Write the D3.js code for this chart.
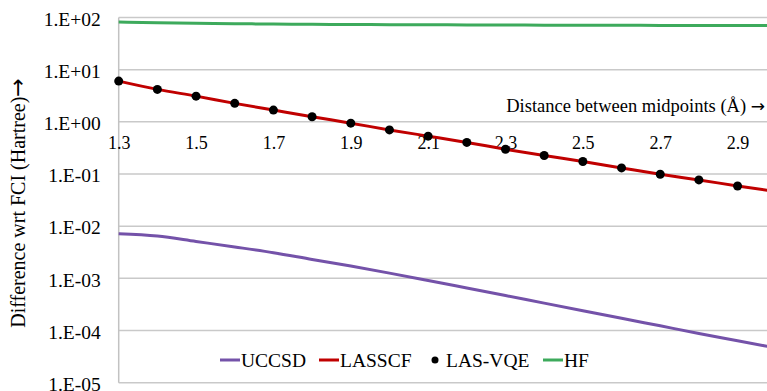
<!DOCTYPE html>
<html>
<head>
<meta charset="utf-8">
<script src="https://cdn.jsdelivr.net/npm/d3@7"></script>
<style>
  html, body { margin: 0; padding: 0; background: #fff; }
  svg { display: block; }
  svg text { font-family: "Liberation Serif", "Times New Roman", serif; fill: #000; }
  svg text .arrow { font-family: "DejaVu Sans", sans-serif; }
</style>
</head>
<body>
<svg id="chart" width="767" height="391"></svg>
<script>
// Bond distance between midpoints (Å)
const distances = [1.3, 1.4, 1.5, 1.6, 1.7, 1.8, 1.9, 2.0, 2.1, 2.2, 2.3, 2.4, 2.5, 2.6, 2.7, 2.8, 2.9, 3.0];
// Energy differences with respect to FCI (Hartree)
const uccsd  = [0.0072, 0.0065, 0.0051, 0.0040, 0.0031, 0.0023, 0.00172, 0.00126, 0.00091, 0.000653, 0.000468, 0.000335, 0.00024, 0.000172, 0.000123, 0.000088, 0.0000638, 0.0000462];
const lasscf = [6.04, 4.19, 3.11, 2.26, 1.68, 1.25, 0.944, 0.70, 0.532, 0.403, 0.298, 0.226, 0.174, 0.131, 0.099, 0.077, 0.059, 0.046];
const lasvqe = [6.04, 4.19, 3.11, 2.26, 1.68, 1.25, 0.944, 0.70, 0.532, 0.403, 0.298, 0.226, 0.174, 0.131, 0.099, 0.077, 0.059, 0.046];
const hf     = [82, 79, 77.5, 76, 75, 74, 73.5, 73, 72.5, 72, 71.7, 71.4, 71, 70.8, 70.5, 70.3, 70.1, 70];
const xTicks = [1.3, 1.5, 1.7, 1.9, 2.1, 2.3, 2.5, 2.7, 2.9];
const yTicks = [1e2, 1e1, 1e0, 1e-1, 1e-2, 1e-3, 1e-4, 1e-5];
const seriesNames = ["UCCSD", "LASSCF", "LAS-VQE", "HF"];

const colors = { UCCSD: "#7452a9", LASSCF: "#c00000", "LAS-VQE": "#000000", HF: "#3daa5c" };

const svg = d3.select("#chart");
const plotLeft = 118.7, plotTop = 17.5, plotBottom = 382.7;

const x = d3.scaleLinear().domain([1.3, 3.0]).range([plotLeft, plotLeft + 17 * 38.68]);
const y = d3.scaleLog().domain([1e-5, 1e2]).range([plotBottom, plotTop]);

// Excel-style scientific labels: 1.E+02, 1.E-05
const sci = v => {
  const e = Math.round(Math.log10(v));
  return "1.E" + (e < 0 ? "-" : "+") + String(Math.abs(e)).padStart(2, "0");
};

// horizontal gridlines
svg.append("g")
  .selectAll("line")
  .data(yTicks)
  .join("line")
  .attr("x1", plotLeft).attr("x2", 767)
  .attr("y1", d => y(d)).attr("y2", d => y(d))
  .attr("stroke", "#c9c9c9").attr("stroke-width", 1.5);

// vertical axis line
svg.append("line")
  .attr("x1", plotLeft).attr("x2", plotLeft)
  .attr("y1", plotTop).attr("y2", plotBottom)
  .attr("stroke", "#c2c2c2").attr("stroke-width", 1.5);

// y tick labels
const yAxis = d3.axisLeft(y).tickValues(yTicks).tickFormat(sci).tickSize(0).tickPadding(18);
const gy = svg.append("g").attr("transform", `translate(${plotLeft},0)`).call(yAxis)
  .attr("font-family", null);
gy.select(".domain").remove();
gy.selectAll("text")
  .style("font-size", "19.5px")
  .attr("dy", "0.4em");

// x tick labels, placed under the 1.E+00 line
const xAxis = d3.axisBottom(x).tickValues(xTicks).tickFormat(d3.format(".1f")).tickSize(0).tickPadding(14);
const gx = svg.append("g").attr("transform", `translate(0,${y(1)})`).call(xAxis)
  .attr("font-family", null);
gx.select(".domain").remove();
gx.selectAll("text")
  .style("font-size", "18px");

// axis titles
const xt = svg.append("text")
  .attr("x", 765).attr("y", 112)
  .attr("text-anchor", "end")
  .style("font-size", "18.5px")
  .text("Distance between midpoints (Å) ");
xt.append("tspan").attr("class", "arrow").style("font-size", "17px").text("→");

const yt = svg.append("text")
  .attr("transform", "translate(25,203) rotate(-90)")
  .attr("text-anchor", "middle")
  .style("font-size", "20px")
  .text("Difference wrt FCI (Hartree)");
yt.append("tspan").attr("class", "arrow").style("font-size", "22px").text("→");

// series lines
const line = d3.line().x((d, i) => x(distances[i])).y(d => y(d)).curve(d3.curveMonotoneX);
const lines = [["UCCSD", uccsd], ["LASSCF", lasscf], ["HF", hf]];
svg.append("g")
  .selectAll("path")
  .data(lines)
  .join("path")
  .attr("d", d => line(d[1]))
  .attr("fill", "none")
  .attr("stroke", d => colors[d[0]])
  .attr("stroke-width", 3)
  .attr("stroke-linejoin", "round");

// LAS-VQE points
svg.append("g")
  .selectAll("circle")
  .data(lasvqe)
  .join("circle")
  .attr("cx", (d, i) => x(distances[i]))
  .attr("cy", d => y(d))
  .attr("r", 4.5)
  .attr("fill", colors["LAS-VQE"]);

// legend
const legendX = [220, 319, 431, 543];
const lg = svg.append("g").attr("transform", "translate(0,360)");
const item = lg.selectAll("g").data(seriesNames).join("g")
  .attr("transform", (d, i) => `translate(${legendX[i]},0)`);
item.filter(d => d !== "LAS-VQE").append("line")
  .attr("x1", 0).attr("x2", 20).attr("y1", 0).attr("y2", 0)
  .attr("stroke", d => colors[d]).attr("stroke-width", 3);
item.filter(d => d === "LAS-VQE").append("circle")
  .attr("cx", 4).attr("cy", 0).attr("r", 3.5).attr("fill", colors["LAS-VQE"]);
item.append("text")
  .attr("x", d => d === "LAS-VQE" ? 15 : 21)
  .attr("y", 0).attr("dy", "0.36em")
  .style("font-size", "19.5px")
  .text(d => d);
</script>
</body>
</html>
